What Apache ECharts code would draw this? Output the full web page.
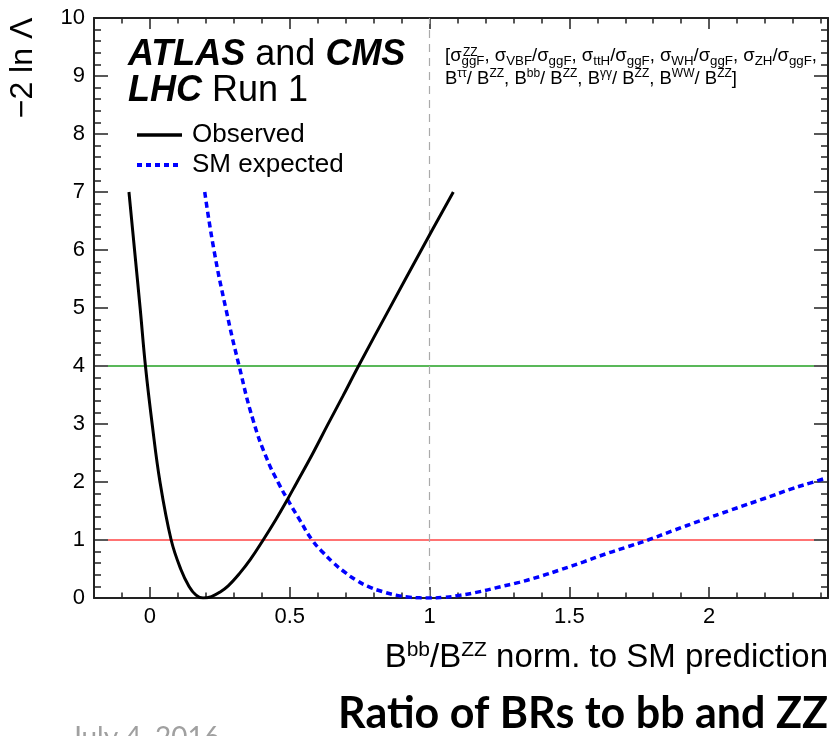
<!DOCTYPE html>
<html>
<head>
<meta charset="utf-8">
<script src="https://cdn.jsdelivr.net/npm/echarts@6/dist/echarts.min.js"></script>
<style>
  html, body { margin: 0; padding: 0; background: #fff; }
  #chart { width: 830px; height: 736px; }
</style>
</head>
<body>
<div id="chart"></div>
<script>
// Likelihood scan of B(bb)/B(ZZ), normalised to the SM prediction
const obsX = [-0.075, -0.055, -0.035, -0.016, 0.008, 0.036, 0.076, 0.11, 0.14, 0.165, 0.19, 0.22, 0.25, 0.28, 0.32, 0.36, 0.405, 0.45, 0.492, 0.524, 0.58, 0.635, 0.69, 0.746, 0.86, 0.975, 1.085];
const obsY = [7.0, 6.0, 5.0, 4.0, 3.0, 2.0, 1.0, 0.5, 0.2, 0.05, 0.0, 0.025, 0.10, 0.21, 0.42, 0.67, 1.0, 1.35, 1.70, 1.98, 2.47, 2.98, 3.48, 4.0, 5.02, 6.04, 7.0];

const expX = [0.196, 0.229, 0.271, 0.319, 0.37, 0.42, 0.46, 0.492, 0.534, 0.58, 0.62, 0.653, 0.69, 0.737, 0.78, 0.832, 0.88, 0.928, 0.97, 1.0, 1.05, 1.107, 1.18, 1.25, 1.32, 1.394, 1.47, 1.549, 1.63, 1.70, 1.781, 1.87, 1.967, 2.08, 2.2, 2.3, 2.36, 2.42];
const expY = [7.0, 6.0, 5.0, 4.0, 3.05, 2.38, 1.98, 1.70, 1.36, 1.0, 0.78, 0.62, 0.47, 0.31, 0.2, 0.11, 0.05, 0.015, 0.002, 0.0, 0.01, 0.045, 0.11, 0.19, 0.27, 0.37, 0.49, 0.62, 0.76, 0.87, 1.0, 1.16, 1.33, 1.52, 1.72, 1.89, 1.98, 2.07];

const xLabelTicks = [0, 0.5, 1, 1.5, 2];
const xRange = [-0.2, 2.425];
const yRange = [0, 10];
const sigmaLevels = [1, 4];            // 1 sigma and 2 sigma thresholds
const levelColors = ['#ff4545', '#22a022'];
const levelSpan = [-0.15, 2.375];
const smValue = 1;

const FONT = '"Liberation Sans", Arial, Helvetica, sans-serif';
const SLIDE_FONT = 'Lato, "Open Sans", sans-serif';
const INK = '#222';

const chart = echarts.init(document.getElementById('chart'), null, { renderer: 'canvas' });

// major (labelled) and minor tick axes for one side of the frame
function xAxisPair(position, withLabels) {
  return [
    {
      type: 'value', min: xRange[0], max: xRange[1], position: position,
      axisLine: { show: true, onZero: false, lineStyle: { color: INK, width: 2 } },
      axisTick: { show: true, inside: true, length: 11, customValues: xLabelTicks, lineStyle: { color: INK, width: 1.5 } },
      axisLabel: withLabels
        ? { show: true, customValues: xLabelTicks, fontFamily: FONT, fontSize: 22, color: '#000', margin: 8 }
        : { show: false },
      splitLine: { show: false }
    },
    {
      type: 'value', min: xRange[0], max: xRange[1], interval: 0.1, position: position,
      axisLine: { show: false, onZero: false },
      axisTick: { show: true, inside: true, length: 5.5, lineStyle: { color: INK, width: 1.5 } },
      axisLabel: { show: false },
      splitLine: { show: false }
    }
  ];
}

function yAxisDef(position, withLabels) {
  return {
    type: 'value', min: yRange[0], max: yRange[1], interval: 1, position: position,
    axisLine: { show: true, onZero: false, lineStyle: { color: INK, width: 2 } },
    axisTick: { show: true, inside: true, length: 14, lineStyle: { color: INK, width: 1.5 } },
    minorTick: { show: true, splitNumber: 5, length: 7, lineStyle: { color: INK, width: 1.5 } },
    axisLabel: withLabels
      ? { show: true, fontFamily: FONT, fontSize: 22, color: '#000', margin: 9 }
      : { show: false },
    splitLine: { show: false },
    minorSplitLine: { show: false }
  };
}

const levelLines = sigmaLevels.map((lv, i) => [
  { coord: [levelSpan[0], lv], lineStyle: { color: levelColors[i], width: 1.5, type: 'solid' } },
  { coord: [levelSpan[1], lv] }
]);

const option = {
  animation: false,
  backgroundColor: '#fff',
  grid: { left: 94, right: 2, top: 18, bottom: 138, containLabel: false },
  xAxis: [...xAxisPair('bottom', true), ...xAxisPair('top', false)],
  yAxis: [yAxisDef('left', true), yAxisDef('right', false)],
  legend: {
    orient: 'vertical', left: 130, top: 117,
    itemWidth: 45, itemHeight: 14, itemGap: 4,
    itemStyle: { opacity: 0, borderWidth: 0 },
    textStyle: { fontFamily: FONT, fontSize: 26, color: '#000', padding: [0, 0, 0, 5] },
    data: [
      { name: 'Observed', lineStyle: { width: 3.5 } },
      { name: 'SM expected', lineStyle: { width: 4, type: [5, 4] } }
    ]
  },
  series: [
    {
      name: 'Observed', type: 'line', xAxisIndex: 0, yAxisIndex: 0,
      data: obsX.map((x, i) => [x, obsY[i]]),
      showSymbol: false, symbol: 'none', smooth: 0.4, z: 5,
      lineStyle: { color: '#000', width: 3 },
      itemStyle: { color: '#000' },
      markLine: {
        silent: true, symbol: ['none', 'none'], label: { show: false }, z: 1,
        data: [
          ...levelLines,
          { xAxis: smValue, lineStyle: { color: '#aaa', width: 1.2, type: [8, 6] } }
        ]
      }
    },
    {
      name: 'SM expected', type: 'line', xAxisIndex: 0, yAxisIndex: 0,
      data: expX.map((x, i) => [x, expY[i]]),
      showSymbol: false, symbol: 'none', smooth: 0.5, z: 4,
      lineStyle: { color: '#0000ff', width: 3.5, type: [6, 4] },
      itemStyle: { color: '#0000ff' }
    }
  ],
  graphic: [
    {
      type: 'text', x: 23, y: 68, rotation: Math.PI / 2,
      style: { text: '\u22122 ln \u039b', font: '32px ' + FONT, fill: '#000', align: 'center', verticalAlign: 'middle' }
    },
    {
      type: 'text', x: 128, y: 37,
      style: {
        text: '{b|ATLAS} and {b|CMS}\n{b|LHC} Run 1',
        font: '36px ' + FONT, fill: '#000', align: 'left', verticalAlign: 'top', lineHeight: 36,
        rich: { b: { fontStyle: 'italic', fontWeight: 'bold', fontSize: 36, fontFamily: FONT, lineHeight: 36 } }
      }
    },
    {
      type: 'text', x: 445, y: 45,
      style: {
        text: '[\u03c3{s|ggF}, \u03c3{s|VBF}/\u03c3{s|ggF}, \u03c3{s|ttH}/\u03c3{s|ggF}, \u03c3{s|WH}/\u03c3{s|ggF}, \u03c3{s|ZH}/\u03c3{s|ggF},\n' +
              'B{p|\u03c4\u03c4}/ B{p|ZZ}, B{p|bb}/ B{p|ZZ}, B{p|\u03b3\u03b3}/ B{p|ZZ}, B{p|WW}/ B{p|ZZ}]',
        font: '18.5px ' + FONT, fill: '#000', align: 'left', verticalAlign: 'top', lineHeight: 22.5,
        rich: {
          s: { fontSize: 13.3, fontFamily: FONT, verticalAlign: 'bottom', lineHeight: 17.6 },
          p: { fontSize: 12, fontFamily: FONT, verticalAlign: 'top', lineHeight: 16 }
        }
      }
    },
    {
      type: 'text', x: 463, y: 53,
      style: { text: 'ZZ', font: '12px ' + FONT, fill: '#000', align: 'left', verticalAlign: 'middle' }
    },
    {
      type: 'text', x: 828, y: 658,
      style: {
        text: 'B{p|bb}/B{p|ZZ} norm. to SM prediction',
        font: '33px ' + FONT, fill: '#000', align: 'right', verticalAlign: 'middle', lineHeight: 36,
        rich: { p: { fontSize: 21, fontFamily: FONT, verticalAlign: 'top', lineHeight: 24 } }
      }
    },
    {
      type: 'text', x: 828, y: 714,
      style: { text: 'Ratio of BRs to bb and ZZ', font: 'bold 43px ' + SLIDE_FONT, fill: '#000', align: 'right', verticalAlign: 'middle' }
    },
    {
      type: 'text', x: 70, y: 724,
      style: { text: 'July 4, 2016', font: '28px ' + SLIDE_FONT, fill: '#a0a0a0', align: 'left', verticalAlign: 'top' }
    }
  ]
};

chart.setOption(option);
</script>
</body>
</html>
